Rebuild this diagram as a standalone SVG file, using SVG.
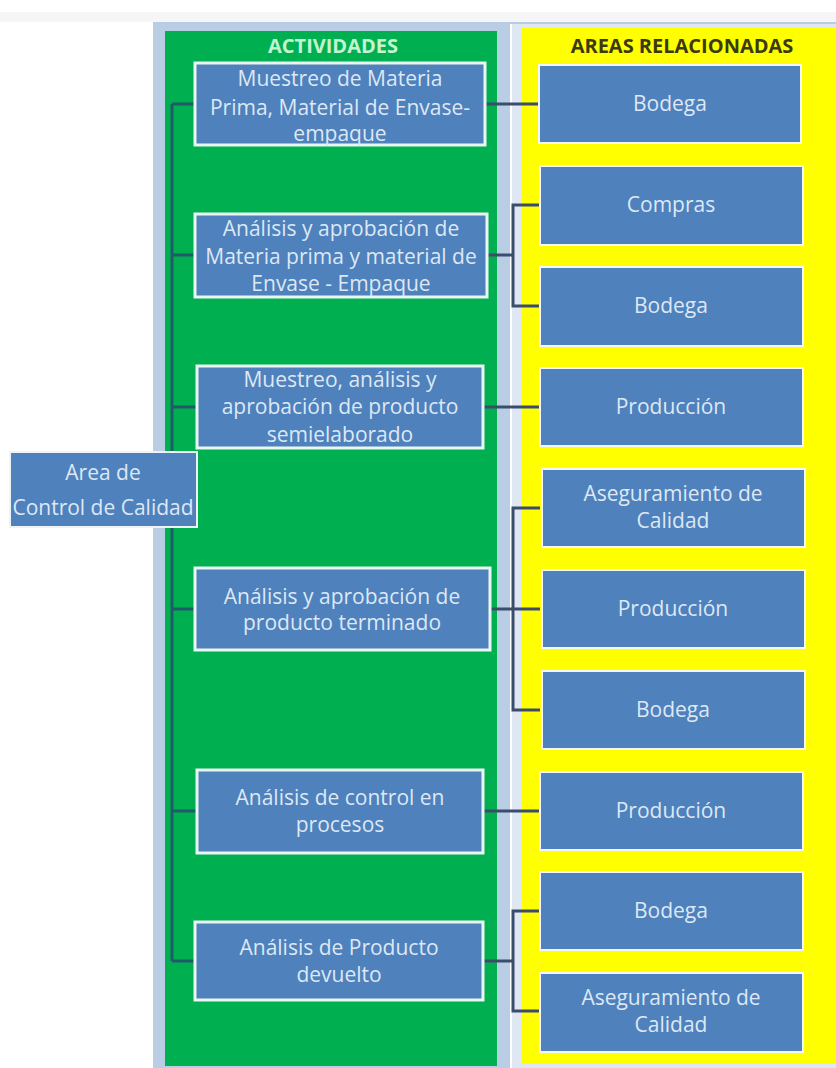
<svg xmlns="http://www.w3.org/2000/svg" width="836" height="1068" viewBox="0 0 836 1068">
  <defs>
    <style>
      .panel-bg { fill: #b9cde5; }
      .act { fill: #4f81bd; stroke: #eaf6f2; stroke-width: 3; }
      .area { fill: #4f81bd; stroke: #f4f6fa; stroke-width: 2; }
      .lbl { font-family: "Open Sans", "Liberation Sans", sans-serif; font-size: 21px; fill: #dde8f4; text-anchor: middle; }
      .hdr { font-family: "Open Sans", "Liberation Sans", sans-serif; font-size: 20px; font-weight: bold; text-anchor: middle; }
      .trunk { stroke: #215a68; stroke-width: 3; fill: none; }
      .link { stroke: #3c4c6c; stroke-width: 3; fill: none; }
    </style>
  </defs>

  <!-- page background -->
  <rect x="0" y="0" width="836" height="1068" fill="#ffffff"/>
  <rect x="0" y="12" width="836" height="10" fill="#f6f5f8"/>

  <!-- column panels -->
  <rect class="panel-bg" x="153" y="22" width="683" height="1046"/>
  <rect x="165" y="31" width="332" height="1035" fill="#00b050"/>
  <rect x="510" y="24" width="326" height="1044" fill="#dfe7f3"/>
  <rect x="510" y="24" width="2" height="1044" fill="#ffffff"/>
  <rect x="522" y="28" width="314" height="1036" fill="#ffff00"/>

  <text class="hdr" x="333" y="53" fill="#c4f5d0">ACTIVIDADES</text>
  <text class="hdr" x="682" y="53" fill="#3a3a12">AREAS RELACIONADAS</text>

  <!-- connectors -->
  <g id="connectors">
    <path class="trunk" d="M172 104 V961"/>
    <path class="trunk" d="M172 104 H195 M172 255 H195 M172 407 H197 M172 609 H195 M172 811 H197 M172 961 H195"/>
    <path class="link" d="M485 104 H540"/>
    <path class="link" d="M487 255 H513 M540 205 H513 V306 H540"/>
    <path class="link" d="M483 407 H540"/>
    <path class="link" d="M490 609 H540 M540 508 H513 V710 H540"/>
    <path class="link" d="M483 811 H540"/>
    <path class="link" d="M483 961 H513 M540 911 H513 V1011 H540"/>
  </g>

  <!-- root node -->
  <g id="root">
    <rect x="10" y="452" width="187" height="75" fill="#4f81bd" stroke="#eef3f8" stroke-width="2"/>
    <text class="lbl" x="103" y="480">Area de</text>
    <text class="lbl" x="103" y="515">Control de Calidad</text>
  </g>

  <!-- activities -->
  <g id="act-1">
    <rect class="act" x="195" y="63" width="290" height="82"/>
    <text class="lbl" x="340" y="86">Muestreo de Materia</text>
    <text class="lbl" x="340" y="115">Prima, Material de Envase-</text>
    <text class="lbl" x="340" y="141">empaque</text>
  </g>
  <g id="act-2">
    <rect class="act" x="195" y="214" width="292" height="83"/>
    <text class="lbl" x="341" y="236">Análisis y aprobación de</text>
    <text class="lbl" x="341" y="264">Materia prima y material de</text>
    <text class="lbl" x="341" y="291">Envase - Empaque</text>
  </g>
  <g id="act-3">
    <rect class="act" x="197" y="366" width="286" height="82"/>
    <text class="lbl" x="340" y="387">Muestreo, análisis y</text>
    <text class="lbl" x="340" y="414">aprobación de producto</text>
    <text class="lbl" x="340" y="442">semielaborado</text>
  </g>
  <g id="act-4">
    <rect class="act" x="195" y="568" width="295" height="82"/>
    <text class="lbl" x="342" y="604">Análisis y aprobación de</text>
    <text class="lbl" x="342" y="630">producto terminado</text>
  </g>
  <g id="act-5">
    <rect class="act" x="197" y="770" width="286" height="83"/>
    <text class="lbl" x="340" y="805">Análisis de control en</text>
    <text class="lbl" x="340" y="832">procesos</text>
  </g>
  <g id="act-6">
    <rect class="act" x="195" y="922" width="288" height="78"/>
    <text class="lbl" x="339" y="955">Análisis de Producto</text>
    <text class="lbl" x="339" y="982">devuelto</text>
  </g>

  <!-- related areas -->
  <g id="area-1">
    <rect class="area" x="539" y="65" width="262" height="78"/>
    <text class="lbl" x="670" y="111">Bodega</text>
  </g>
  <g id="area-2">
    <rect class="area" x="540" y="166" width="263" height="79"/>
    <text class="lbl" x="671" y="212">Compras</text>
  </g>
  <g id="area-3">
    <rect class="area" x="540" y="267" width="263" height="79"/>
    <text class="lbl" x="671" y="313">Bodega</text>
  </g>
  <g id="area-4">
    <rect class="area" x="540" y="368" width="263" height="78"/>
    <text class="lbl" x="671" y="414">Producción</text>
  </g>
  <g id="area-5">
    <rect class="area" x="542" y="469" width="263" height="78"/>
    <text class="lbl" x="673" y="501">Aseguramiento de</text>
    <text class="lbl" x="673" y="528">Calidad</text>
  </g>
  <g id="area-6">
    <rect class="area" x="542" y="570" width="263" height="78"/>
    <text class="lbl" x="673" y="616">Producción</text>
  </g>
  <g id="area-7">
    <rect class="area" x="542" y="671" width="263" height="78"/>
    <text class="lbl" x="673" y="717">Bodega</text>
  </g>
  <g id="area-8">
    <rect class="area" x="540" y="772" width="263" height="78"/>
    <text class="lbl" x="671" y="818">Producción</text>
  </g>
  <g id="area-9">
    <rect class="area" x="540" y="872" width="263" height="78"/>
    <text class="lbl" x="671" y="918">Bodega</text>
  </g>
  <g id="area-10">
    <rect class="area" x="540" y="973" width="263" height="79"/>
    <text class="lbl" x="671" y="1005">Aseguramiento de</text>
    <text class="lbl" x="671" y="1032">Calidad</text>
  </g>
</svg>
